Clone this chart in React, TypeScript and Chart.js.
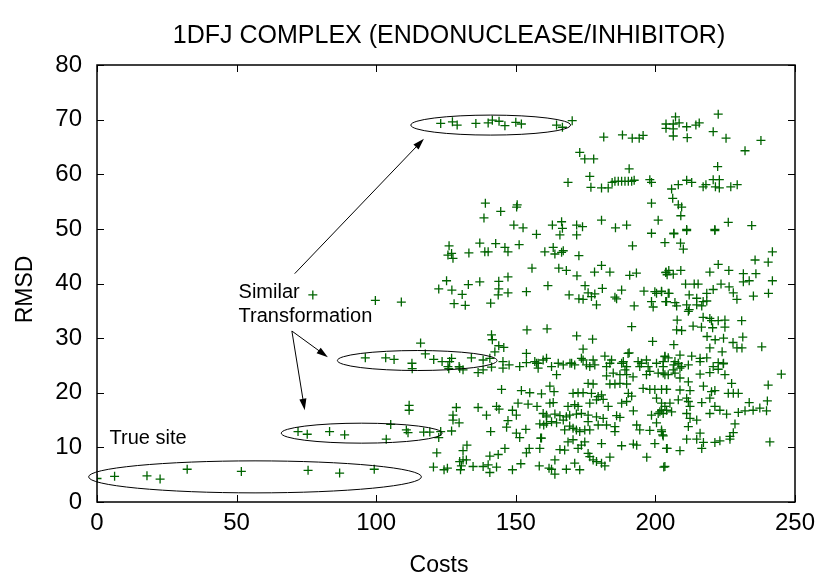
import { useEffect, useRef } from "react";
import { Chart, registerables } from "chart.js";

Chart.register(...registerables);

const chartTitle = "1DFJ COMPLEX (ENDONUCLEASE/INHIBITOR)";
const xAxisTitle = "Costs";
const yAxisTitle = "RMSD";
const xTickValues = [0, 50, 100, 150, 200, 250];
const yTickValues = [0, 10, 20, 30, 40, 50, 60, 70, 80];

// True-site solutions
const trueSiteCosts = [0, 6.3, 17.9, 22.6, 32.3, 51.7, 75.6, 86.9, 99.3];
const trueSiteRmsd = [4.3, 4.7, 4.8, 4.2, 6.0, 5.6, 5.8, 5.3, 6.0];

// Similar transformation clusters
const lowClusterCosts = [72.0, 75.3, 83.3, 88.7, 103.6, 105.2, 110.8, 111.4, 117.0, 119.2, 123.1, 122.4, 127.0];
const lowClusterRmsd = [12.9, 12.4, 12.9, 12.3, 11.5, 14.2, 13.2, 12.7, 12.8, 12.8, 12.9, 11.8, 13.0];

const midClusterCosts = [96.1, 103.4, 106.4, 112.8, 112.9, 115.9, 117.6, 120.6, 123.6, 126.0, 127.0];
const midClusterRmsd = [26.4, 26.4, 26.1, 25.4, 24.4, 29.1, 27.1, 26.1, 25.7, 24.4, 26.3];

const topClusterCosts = [123.1, 127.3, 129.0, 135.7, 140.1, 141.6, 144.0, 146.1, 150.0, 152.0, 164.6, 166.7, 170.2];
const topClusterRmsd = [69.3, 69.6, 69.0, 69.3, 69.4, 69.9, 69.7, 68.9, 69.5, 69.2, 69.0, 68.6, 69.8];

// Other decoys: [cost, rmsd]
const decoysHigh: [number, number][] = [
  [172.9, 64.0], [174.7, 62.8], [177.9, 62.8], [176.5, 59.6], [176.9, 57.6], [168.7, 58.5],
  [139.1, 54.7], [150.5, 54.4], [150.3, 54.0], [144.6, 53.2], [138.6, 52.0], [149.3, 50.7],
  [152.6, 50.2], [157.4, 49.0], [163.1, 50.7], [166.4, 51.3], [166.7, 50.1], [165.8, 48.9],
  [171.8, 50.7], [173.9, 50.4], [171.8, 48.9],
  [222.5, 71.0], [207.2, 70.5], [203.8, 69.2], [203.8, 68.4], [206.4, 69.2], [208.5, 69.4],
  [206.4, 68.3], [211.2, 68.7], [214.5, 69.0], [215.7, 69.4], [206.4, 67.0], [211.4, 66.7],
  [220.7, 67.8], [225.3, 66.6], [237.8, 66.2], [232.1, 64.3], [181.5, 66.8], [188.2, 67.2],
  [191.7, 66.6], [194.2, 66.6], [195.6, 67.1], [190.6, 61.0], [222.3, 61.4],
  [185.5, 58.7], [186.7, 58.7], [187.9, 58.7], [189.1, 58.7], [190.3, 58.7], [191.5, 58.7],
  [192.4, 58.9], [198.0, 59.0], [198.6, 58.5], [211.2, 58.9], [213.0, 58.5], [220.7, 59.0],
  [222.9, 59.0], [208.2, 58.1], [205.8, 57.3], [217.1, 57.7], [218.1, 58.1], [221.5, 57.7],
  [222.9, 57.5], [227.0, 57.7], [229.3, 58.1], [180.7, 57.5], [183.1, 57.5], [184.5, 58.5],
  [206.2, 55.6], [208.2, 54.4], [209.4, 54.0], [198.6, 54.7], [209.1, 52.4], [201.0, 51.6],
  [180.7, 51.6], [185.7, 50.2], [189.7, 50.7], [198.6, 49.2], [206.6, 49.2], [211.2, 49.9],
  [221.3, 49.9], [226.1, 51.2], [234.5, 50.6], [206.6, 49.1], [211.2, 49.7], [221.3, 49.7],
];

const decoysMid: [number, number][] = [
  [77.3, 37.9], [99.7, 36.9], [109.0, 36.6], [125.2, 40.5], [122.4, 39.0], [127.1, 38.8],
  [127.9, 36.3], [125.7, 45.2],
  [126.1, 46.9], [127.0, 45.5], [127.5, 44.6], [137.1, 47.4], [142.8, 47.3], [138.9, 45.8],
  [140.1, 45.8], [146.1, 46.6], [147.2, 45.8], [151.2, 47.1], [160.4, 45.8], [133.2, 45.6],
  [155.8, 42.8], [133.0, 39.8], [137.1, 40.3], [143.9, 40.4], [147.2, 41.2], [143.9, 39.0],
  [143.7, 37.9], [147.2, 38.3], [130.8, 38.0], [153.8, 38.5], [131.9, 36.0], [141.0, 36.4],
  [161.5, 39.6], [154.0, 31.5], [161.2, 31.7], [141.3, 30.6], [141.6, 29.7], [143.9, 28.6],
  [145.7, 28.3], [153.8, 27.2], [156.8, 25.7], [161.0, 26.3], [142.5, 27.5],
  [203.4, 47.5], [191.8, 46.9], [163.4, 46.6], [164.0, 45.4], [166.4, 45.7], [167.0, 46.0],
  [172.6, 45.1], [165.4, 42.8], [168.1, 42.4], [171.9, 41.4], [178.2, 42.1], [180.7, 43.3],
  [183.7, 42.1], [190.8, 41.5], [193.2, 41.9], [203.7, 42.0], [169.1, 37.9], [172.6, 37.2],
  [174.1, 37.1], [174.8, 39.6], [175.9, 38.3], [177.1, 37.6], [178.3, 38.1], [181.0, 39.1],
  [185.5, 37.5], [186.1, 37.2], [187.9, 38.8], [178.9, 36.1], [195.9, 38.6], [199.8, 38.5],
  [200.4, 38.2], [202.2, 38.5], [204.6, 38.2], [192.4, 35.9], [198.6, 36.7], [199.2, 35.7],
  [203.7, 36.7], [204.2, 41.6], [171.8, 30.4], [177.5, 29.8], [174.1, 28.0], [191.5, 32.1],
  [199.0, 29.4], [190.6, 27.3],
  [209.0, 47.4], [210.0, 46.3], [241.9, 45.8], [240.4, 43.9], [235.7, 44.3], [222.5, 43.5],
  [219.5, 42.1], [226.3, 42.4], [231.5, 41.8], [236.0, 41.8], [241.9, 40.5], [233.6, 40.5],
  [231.5, 40.3], [203.8, 42.1], [204.8, 42.4], [206.4, 41.7], [209.1, 42.4],
  [202.2, 38.6], [204.9, 38.2], [210.8, 39.9], [213.9, 39.9], [215.3, 39.9], [212.1, 37.9],
  [218.4, 38.2], [220.7, 38.9], [223.5, 39.9], [226.4, 39.4], [227.9, 38.3], [229.2, 37.1],
  [235.1, 37.7], [240.5, 38.2], [204.0, 36.7], [207.0, 36.5], [207.6, 35.9], [211.2, 36.1],
  [212.1, 35.2], [211.8, 34.9], [214.8, 36.1], [217.1, 36.7], [218.4, 36.8], [214.8, 37.3],
  [216.6, 35.9], [207.8, 33.3], [207.6, 31.5], [209.4, 31.4], [213.5, 32.2], [216.5, 32.0],
  [217.1, 33.8], [219.5, 33.6], [220.1, 33.2], [222.5, 33.2], [224.9, 33.3], [220.5, 31.9],
  [224.9, 32.0], [230.9, 33.2], [231.3, 30.2], [224.4, 30.0], [221.4, 29.7], [218.5, 30.3],
  [227.8, 29.2], [229.2, 28.2], [231.0, 28.2], [219.5, 28.2], [238.1, 28.4], [206.6, 28.8],
];

const decoysBand: [number, number][] = [
  [134.1, 26.4], [138.3, 26.0], [140.7, 26.3], [145.4, 25.7], [147.6, 25.1], [151.4, 24.8],
  [158.0, 25.4], [129.7, 24.8], [125.7, 24.8], [126.3, 25.7], [129.9, 24.5], [131.1, 24.2],
  [136.5, 23.7], [138.3, 24.2], [141.3, 24.7], [145.4, 24.5], [153.8, 25.5], [157.4, 25.4],
  [158.0, 24.5], [159.8, 26.0], [162.8, 24.8], [165.2, 25.4], [167.0, 25.1], [170.0, 25.4],
  [171.1, 25.1], [173.5, 26.3], [174.1, 26.0], [175.3, 25.1], [177.7, 26.0], [178.3, 25.1],
  [181.9, 26.7], [183.7, 25.4], [184.3, 26.0], [188.5, 25.7], [190.2, 27.2], [189.7, 24.8],
  [193.8, 25.7], [195.0, 25.4], [196.8, 26.0], [197.4, 24.8], [200.4, 25.4], [203.4, 26.7],
  [202.8, 24.8], [169.4, 25.4], [176.5, 24.8], [182.5, 24.8], [187.9, 25.4], [194.4, 24.8],
  [189.1, 24.2], [198.0, 23.9], [201.0, 23.6], [203.4, 23.3], [164.6, 23.3], [182.5, 23.1],
  [184.9, 23.6], [187.3, 23.3], [189.7, 23.3], [192.0, 22.9], [196.8, 23.3],
  [203.4, 26.6], [204.6, 26.4], [208.8, 26.9], [213.0, 26.7], [216.0, 26.3], [218.4, 26.4],
  [206.6, 25.1], [208.2, 25.4], [209.4, 24.8], [211.8, 25.1], [220.7, 24.8], [222.5, 25.5],
  [224.4, 25.4], [223.9, 27.5], [202.8, 25.7], [207.0, 25.7], [216.0, 25.7], [224.3, 25.3],
  [206.4, 24.2], [208.8, 24.5], [202.8, 23.6], [204.6, 23.3], [207.0, 23.6], [216.0, 23.4],
  [219.5, 23.7], [222.5, 24.3], [224.9, 23.3], [245.1, 23.4],
];

const decoysLow: [number, number][] = [
  [111.8, 17.7], [111.8, 16.8], [121.7, 9.0], [120.5, 6.4], [124.3, 5.9], [125.5, 6.2],
  [127.5, 15.9], [127.5, 15.0],
  [144.9, 20.6], [152.0, 20.4], [155.0, 20.0], [159.2, 19.8], [128.7, 17.3], [136.5, 17.3],
  [139.5, 15.9], [143.1, 17.5], [144.0, 17.0], [148.8, 16.8], [150.8, 18.1], [154.4, 17.9],
  [157.6, 17.5], [150.2, 15.9], [129.7, 14.5], [147.2, 14.9], [146.7, 13.7], [141.0, 12.9],
  [150.2, 12.6], [151.4, 11.8], [153.6, 13.3], [158.6, 14.3], [160.0, 14.1], [158.9, 11.7],
  [161.0, 15.6], [132.5, 10.4], [131.1, 9.4], [140.7, 8.4], [143.7, 8.7], [146.1, 9.8],
  [153.8, 9.0], [154.8, 9.8], [129.9, 7.4], [131.1, 7.7], [132.3, 7.7], [130.5, 6.6],
  [130.2, 5.9], [134.7, 6.5], [138.3, 6.5], [140.1, 6.8], [140.7, 5.4], [143.1, 6.4],
  [148.8, 5.9], [151.8, 7.0], [158.4, 6.6], [161.9, 6.2],
  [162.2, 21.2], [163.7, 20.2], [170.5, 19.9], [172.3, 20.0], [174.1, 20.0], [175.9, 21.7],
  [177.7, 21.6], [177.1, 19.9], [179.5, 19.3], [180.7, 19.6], [181.3, 18.8], [183.7, 21.6],
  [185.5, 21.6], [187.3, 21.7], [189.7, 21.6], [190.3, 19.9], [191.5, 19.4], [187.9, 18.1],
  [189.7, 18.4], [192.1, 16.7], [195.6, 20.8], [198.0, 20.6], [199.8, 20.6], [202.2, 20.6],
  [204.0, 20.6], [200.4, 19.0], [203.4, 17.5], [204.0, 16.8], [162.2, 18.1], [163.4, 18.2],
  [168.7, 17.5], [171.1, 17.8], [172.3, 17.5], [176.5, 18.1], [178.9, 18.7], [183.1, 17.5],
  [159.8, 16.2], [161.0, 15.9], [164.0, 16.1], [165.8, 15.8], [168.1, 15.6], [169.3, 15.9],
  [171.7, 16.1], [173.5, 16.2], [175.9, 15.9], [178.9, 15.6], [186.1, 15.8], [187.3, 15.5],
  [198.6, 15.9], [201.0, 16.2], [202.2, 16.8], [161.0, 14.4], [162.8, 14.7], [164.6, 14.5],
  [167.0, 15.0], [167.5, 13.2], [169.3, 13.9], [170.5, 13.5], [171.7, 13.2], [172.9, 12.9],
  [174.7, 13.2], [176.5, 13.2], [175.9, 14.7], [179.5, 14.1], [181.3, 15.3], [182.5, 14.1],
  [185.5, 13.8], [185.5, 12.9], [193.3, 14.1], [194.4, 13.2], [198.0, 13.1], [200.4, 14.5],
  [202.2, 12.9], [202.8, 12.1], [159.2, 11.7], [158.6, 9.8], [164.0, 7.7], [165.8, 9.6],
  [167.5, 9.5], [168.7, 11.0], [170.5, 11.4], [172.3, 9.8], [173.5, 10.4], [174.7, 11.0],
  [175.9, 8.9], [176.5, 8.3], [177.7, 7.7], [178.9, 7.4], [180.7, 7.1], [181.9, 6.6],
  [183.7, 8.2], [180.7, 10.7], [187.9, 10.3], [192.1, 10.6], [193.3, 10.4], [196.9, 8.2],
  [199.8, 10.7], [204.0, 9.8], [203.4, 6.5], [162.8, 6.0], [164.0, 5.1], [168.1, 6.0],
  [171.1, 7.1], [172.9, 5.9],
  [211.8, 22.0], [208.8, 22.7], [240.4, 21.4], [227.3, 21.7], [204.0, 20.6], [208.8, 20.5],
  [212.4, 20.4], [217.2, 21.2], [220.1, 20.2], [221.3, 20.4], [226.1, 19.9], [227.9, 19.9],
  [229.7, 19.9], [208.2, 18.7], [211.2, 19.0], [211.8, 18.4], [219.5, 19.0], [202.2, 18.1],
  [205.2, 18.1], [212.4, 17.5], [216.6, 18.2], [221.3, 17.5], [223.1, 16.8], [225.5, 16.1],
  [229.7, 16.4], [232.1, 16.7], [233.6, 18.2], [235.0, 16.8], [237.4, 17.2], [239.8, 16.7],
  [240.1, 18.5], [201.6, 16.5], [202.8, 16.2], [205.8, 16.5], [211.2, 16.2], [212.4, 15.3],
  [214.8, 15.0], [219.5, 16.2], [228.5, 14.3], [227.9, 12.7], [202.2, 13.2], [202.6, 12.3],
  [211.8, 13.8], [216.0, 12.6], [211.2, 11.5], [214.8, 11.5], [217.2, 10.9], [216.6, 9.8],
  [221.3, 10.9], [223.1, 11.2], [226.7, 11.5], [204.2, 9.8], [208.8, 9.4], [241.0, 11.0],
  [203.0, 6.4], [226.7, 12.0],
];

// Annotation ellipses (data units): centre cost, centre rmsd, half-width, half-height
const ellipseCx = [56.6, 94.8, 114.7, 141.0];
const ellipseCy = [4.6, 12.6, 25.9, 69.0];
const ellipseRx = [59.6, 28.8, 28.6, 28.6];
const ellipseRy = [2.93, 1.83, 1.83, 1.83];

// Arrows (data units)
const arrowFrom: [number, number][] = [[70.8, 41.8], [69.8, 31.3], [69.8, 31.3]];
const arrowTo: [number, number][] = [[117.1, 66.5], [82.7, 26.5], [74.4, 16.8]];

// Text labels (data units, left/baseline)
const labelTexts = ["True site", "Similar", "Transformation"];
const labelPos: [number, number][] = [[4.5, 10.6], [50.7, 37.3], [50.7, 32.9]];

const FONT = "'Liberation Sans', Arial, Helvetica, sans-serif";
const POINT_COLOR = "#006400";

const zip = (xs: number[], ys: number[]) => xs.map((x, i) => ({ x, y: ys[i] }));
const fromPairs = (p: [number, number][]) => p.map(([x, y]) => ({ x, y }));

const annotationPlugin = {
  id: "gnuplotDecor",
  afterDraw(chart: any) {
    const ctx: CanvasRenderingContext2D = chart.ctx;
    const xs = chart.scales.x;
    const ys = chart.scales.y;
    const { left, right, top, bottom } = chart.chartArea;
    ctx.save();

    // frame
    ctx.strokeStyle = "#000";
    ctx.lineWidth = 1.5;
    ctx.strokeRect(left, top, right - left, bottom - top);

    // inward ticks, mirrored
    const tl = 7;
    ctx.lineWidth = 1;
    ctx.beginPath();
    xTickValues.forEach((v) => {
      const px = Math.round(xs.getPixelForValue(v)) + 0.5;
      ctx.moveTo(px, bottom);
      ctx.lineTo(px, bottom - tl);
      ctx.moveTo(px, top);
      ctx.lineTo(px, top + tl);
    });
    yTickValues.forEach((v) => {
      const py = Math.round(ys.getPixelForValue(v)) + 0.5;
      ctx.moveTo(left, py);
      ctx.lineTo(left + tl, py);
      ctx.moveTo(right, py);
      ctx.lineTo(right - tl, py);
    });
    ctx.stroke();

    // ellipses
    ctx.lineWidth = 1;
    ellipseCx.forEach((cx, i) => {
      const pcx = xs.getPixelForValue(cx);
      const pcy = ys.getPixelForValue(ellipseCy[i]);
      const rx = xs.getPixelForValue(cx + ellipseRx[i]) - pcx;
      const ry = pcy - ys.getPixelForValue(ellipseCy[i] + ellipseRy[i]);
      ctx.beginPath();
      ctx.ellipse(pcx, pcy, rx, ry, 0, 0, Math.PI * 2);
      ctx.stroke();
    });

    // arrows
    arrowFrom.forEach((f, i) => {
      const t = arrowTo[i];
      const x1 = xs.getPixelForValue(f[0]);
      const y1 = ys.getPixelForValue(f[1]);
      const x2 = xs.getPixelForValue(t[0]);
      const y2 = ys.getPixelForValue(t[1]);
      const ang = Math.atan2(y2 - y1, x2 - x1);
      const hl = 12;
      const ha = 0.3;
      ctx.beginPath();
      ctx.moveTo(x1, y1);
      ctx.lineTo(x2 - Math.cos(ang) * hl * 0.8, y2 - Math.sin(ang) * hl * 0.8);
      ctx.stroke();
      ctx.beginPath();
      ctx.moveTo(x2, y2);
      ctx.lineTo(x2 - hl * Math.cos(ang - ha), y2 - hl * Math.sin(ang - ha));
      ctx.lineTo(x2 - hl * Math.cos(ang + ha), y2 - hl * Math.sin(ang + ha));
      ctx.closePath();
      ctx.fillStyle = "#000";
      ctx.fill();
    });

    // annotation labels
    ctx.fillStyle = "#000";
    ctx.font = `20px ${FONT}`;
    ctx.textAlign = "left";
    ctx.textBaseline = "alphabetic";
    labelTexts.forEach((txt, i) => {
      ctx.fillText(txt, xs.getPixelForValue(labelPos[i][0]), ys.getPixelForValue(labelPos[i][1]));
    });

    // title and axis titles
    const cxPlot = (left + right) / 2;
    const cyPlot = (top + bottom) / 2;
    ctx.textAlign = "center";
    ctx.textBaseline = "middle";
    ctx.font = `25px ${FONT}`;
    ctx.fillText(chartTitle, cxPlot + 3, 36);
    ctx.font = `23px ${FONT}`;
    ctx.fillText(xAxisTitle, cxPlot - 7, 566);
    ctx.save();
    ctx.translate(26, cyPlot + 6);
    ctx.rotate(-Math.PI / 2);
    ctx.fillText(yAxisTitle, 0, 0);
    ctx.restore();

    ctx.restore();
  },
};

export default function App() {
  const canvasRef = useRef<HTMLCanvasElement | null>(null);

  useEffect(() => {
    const canvas = canvasRef.current;
    if (!canvas) return;
    const pointStyle = {
      showLine: false,
      pointStyle: "cross" as const,
      pointRadius: 4.5,
      pointHoverRadius: 4.5,
      pointBorderWidth: 1.3,
      borderColor: POINT_COLOR,
      backgroundColor: POINT_COLOR,
    };
    const chart = new Chart(canvas, {
      type: "scatter",
      data: {
        datasets: [
          { label: "true site", data: zip(trueSiteCosts, trueSiteRmsd), ...pointStyle },
          { label: "low cluster", data: zip(lowClusterCosts, lowClusterRmsd), ...pointStyle },
          { label: "mid cluster", data: zip(midClusterCosts, midClusterRmsd), ...pointStyle },
          { label: "top cluster", data: zip(topClusterCosts, topClusterRmsd), ...pointStyle },
          { label: "decoys high", data: fromPairs(decoysHigh), ...pointStyle },
          { label: "decoys mid", data: fromPairs(decoysMid), ...pointStyle },
          { label: "decoys band", data: fromPairs(decoysBand), ...pointStyle },
          { label: "decoys low", data: fromPairs(decoysLow), ...pointStyle },
        ],
      },
      options: {
        animation: false,
        responsive: false,
        maintainAspectRatio: false,
        devicePixelRatio: 1,
        events: [],
        layout: { padding: { left: 0, right: 25, top: 65, bottom: 0 } },
        plugins: {
          legend: { display: false },
          tooltip: { enabled: false },
          title: { display: false },
        },
        scales: {
          x: {
            type: "linear",
            min: 0,
            max: 250,
            grid: { display: false, drawTicks: false },
            border: { display: false },
            ticks: {
              stepSize: 50,
              padding: 7,
              color: "#000",
              font: { family: FONT, size: 24 },
              maxRotation: 0,
            },
            afterFit: (scale: any) => {
              scale.height = 76;
              scale.paddingLeft = 0;
              scale.paddingRight = 0;
            },
          },
          y: {
            type: "linear",
            min: 0,
            max: 80,
            grid: { display: false, drawTicks: false },
            border: { display: false },
            ticks: {
              stepSize: 10,
              padding: 15,
              color: "#000",
              font: { family: FONT, size: 24 },
            },
            afterFit: (scale: any) => {
              scale.width = 97;
              scale.paddingTop = 0;
              scale.paddingBottom = 0;
            },
          },
        },
      },
      plugins: [annotationPlugin],
    });
    return () => chart.destroy();
  }, []);

  return (
    <div style={{ position: "fixed", left: 0, top: 0, width: 820, height: 578, background: "#fff" }}>
      <canvas ref={canvasRef} width={820} height={578} style={{ display: "block" }} />
    </div>
  );
}
